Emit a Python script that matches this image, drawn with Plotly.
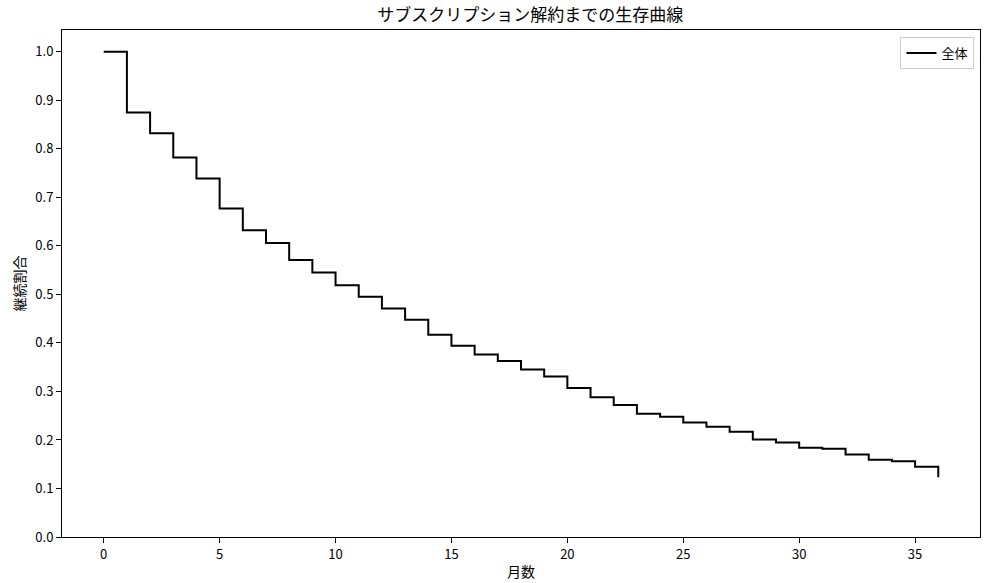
import plotly.graph_objects as go

months = list(range(0, 37))
survival = [1.000, 0.875, 0.832, 0.782, 0.739, 0.677, 0.632, 0.606, 0.571, 0.545,
            0.519, 0.495, 0.471, 0.448, 0.417, 0.394, 0.376, 0.363, 0.345, 0.331,
            0.307, 0.288, 0.272, 0.254, 0.248, 0.236, 0.227, 0.217, 0.201, 0.195,
            0.184, 0.182, 0.170, 0.159, 0.156, 0.145, 0.123]
series_name = "全体"
title = "サブスクリプション解約までの生存曲線"
x_label = "月数"
y_label = "継続割合"
x_ticks = [0, 5, 10, 15, 20, 25, 30, 35]
y_ticks = [round(i * 0.1, 1) for i in range(11)]

FONT = "Noto Sans CJK JP"

fig = go.Figure()
fig.add_trace(go.Scatter(
    x=months, y=survival, mode="lines", name=series_name,
    line=dict(color="black", width=2, shape="hv"),
    showlegend=True,
))

axis_common = dict(
    showline=True, linecolor="black", linewidth=1, mirror=True,
    ticks="outside", ticklen=5, tickwidth=1, tickcolor="black",
    showgrid=False, zeroline=False, automargin=False,
    tickfont=dict(family=FONT, size=13, color="black"),
)

fig.update_layout(
    width=993, height=583,
    margin=dict(l=62, r=13, t=30, b=46, autoexpand=False),
    paper_bgcolor="white", plot_bgcolor="white",
    font=dict(family=FONT, color="black"),
    title=dict(text=title, x=0.534, xanchor="center", y=0.974, yanchor="middle",
               font=dict(family=FONT, size=17, color="black")),
    xaxis=dict(range=[-1.8, 37.8], tickvals=x_ticks,
               title=dict(text=x_label, font=dict(family=FONT, size=14), standoff=5),
               **axis_common),
    yaxis=dict(range=[0, 1.045], tickvals=y_ticks, tickformat=".1f",
               title=dict(text=y_label, font=dict(family=FONT, size=14), standoff=6),
               **axis_common),
    legend=dict(x=0.994, xanchor="right", y=0.986, yanchor="top",
                bordercolor="#cccccc", borderwidth=1, bgcolor="white",
                itemwidth=30, tracegroupgap=0,
                font=dict(family=FONT, size=13, color="black")),
)

fig.write_html("out.html", config={"displayModeBar": False},
               post_script="document.body.style.margin='0';")
